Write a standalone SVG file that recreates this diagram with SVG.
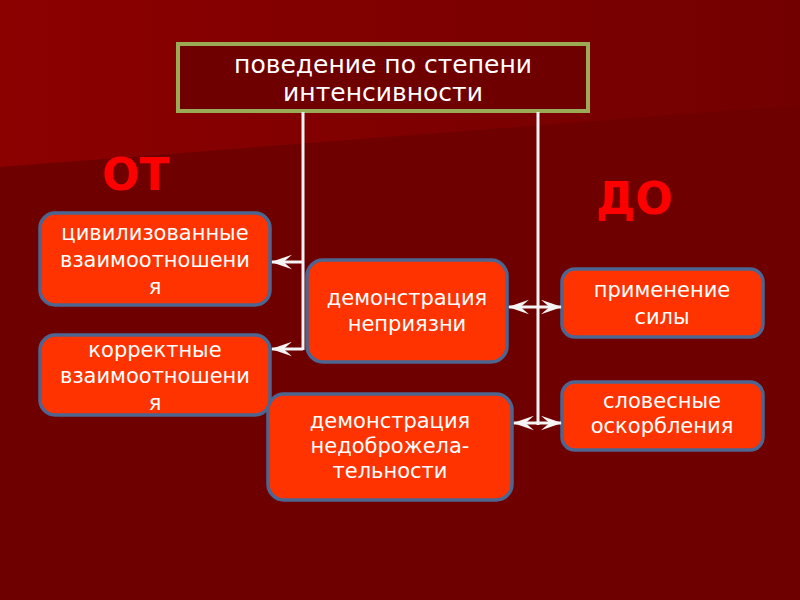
<svg xmlns="http://www.w3.org/2000/svg" width="800" height="600" viewBox="0 0 800 600">
  <defs>
    <linearGradient id="bgTop" x1="0" y1="0" x2="1" y2="0">
      <stop offset="0" stop-color="#8c0000"/>
      <stop offset="1" stop-color="#730000"/>
    </linearGradient>
    <marker id="ah" viewBox="0 0 20 16" refX="19" refY="8" markerWidth="7" markerHeight="5.6" markerUnits="strokeWidth" orient="auto-start-reverse">
      <path d="M0,1 L20,8 L0,15 L8,8 Z" fill="#f4f4f4"/>
    </marker>
    <style>
      .node rect.b { fill: #ff3300; stroke: #4d6591; stroke-width: 3.5; }
      .t { font-family: "DejaVu Sans", Verdana, sans-serif; font-size: 21px; fill: #ffffff; text-anchor: middle; }
      .title { font-family: "DejaVu Sans", Verdana, sans-serif; font-size: 25px; fill: #ffffff; text-anchor: middle; }
      .big { font-family: "DejaVu Sans", Verdana, sans-serif; font-size: 44px; font-weight: bold; fill: #ff0000; }
      .conn line { stroke: #f4f4f4; stroke-width: 3; fill: none; }
    </style>
  </defs>
  <rect x="0" y="0" width="800" height="600" fill="#6e0000"/>
  <polygon points="0,0 800,0 800,105 0,167" fill="url(#bgTop)"/>

  <g id="title">
    <rect x="178" y="44" width="410" height="67" fill="#6e0000" stroke="#9aaa55" stroke-width="4"/>
    <text class="title" x="383" y="73">поведение по степени</text>
    <text class="title" x="383" y="101">интенсивности</text>
  </g>

  <text class="big" x="102" y="190">ОТ</text>
  <text class="big" x="596" y="214">ДО</text>

  <g id="civil" class="node">
    <rect class="b" x="40" y="213" width="230" height="92" rx="15"/>
    <text class="t" x="155" y="240">цивилизованные</text>
    <text class="t" x="155" y="267">взаимоотношени</text>
    <text class="t" x="155" y="294">я</text>
  </g>
  <g id="correct" class="node">
    <rect class="b" x="40" y="335" width="230" height="80" rx="15"/>
    <text class="t" x="155" y="357">корректные</text>
    <text class="t" x="155" y="383">взаимоотношени</text>
    <text class="t" x="155" y="410">я</text>
  </g>
  <g id="dislike" class="node">
    <rect class="b" x="307" y="260" width="200" height="102" rx="16"/>
    <text class="t" x="407" y="305">демонстрация</text>
    <text class="t" x="407" y="331">неприязни</text>
  </g>
  <g id="hostility" class="node">
    <rect class="b" x="268" y="394" width="244" height="106" rx="16"/>
    <text class="t" x="390" y="428">демонстрация</text>
    <text class="t" x="390" y="453">недоброжела-</text>
    <text class="t" x="390" y="478">тельности</text>
  </g>
  <g id="force" class="node">
    <rect class="b" x="562" y="269" width="201" height="68" rx="13"/>
    <text class="t" x="662" y="297">применение</text>
    <text class="t" x="662" y="324">силы</text>
  </g>
  <g id="insult" class="node">
    <rect class="b" x="562" y="382" width="201" height="68" rx="13"/>
    <text class="t" x="662" y="408">словесные</text>
    <text class="t" x="662" y="433">оскорбления</text>
  </g>

  <g class="conn" id="connectors">
    <line x1="303" y1="112" x2="303" y2="350"/>
    <line x1="538" y1="112" x2="538" y2="425"/>
    <line x1="303" y1="262" x2="272" y2="262" marker-end="url(#ah)"/>
    <line x1="303" y1="349" x2="272" y2="349" marker-end="url(#ah)"/>
    <line x1="509" y1="307" x2="561" y2="307" marker-start="url(#ah)" marker-end="url(#ah)"/>
    <line x1="514" y1="423" x2="561" y2="423" marker-start="url(#ah)" marker-end="url(#ah)"/>
  </g>
</svg>
